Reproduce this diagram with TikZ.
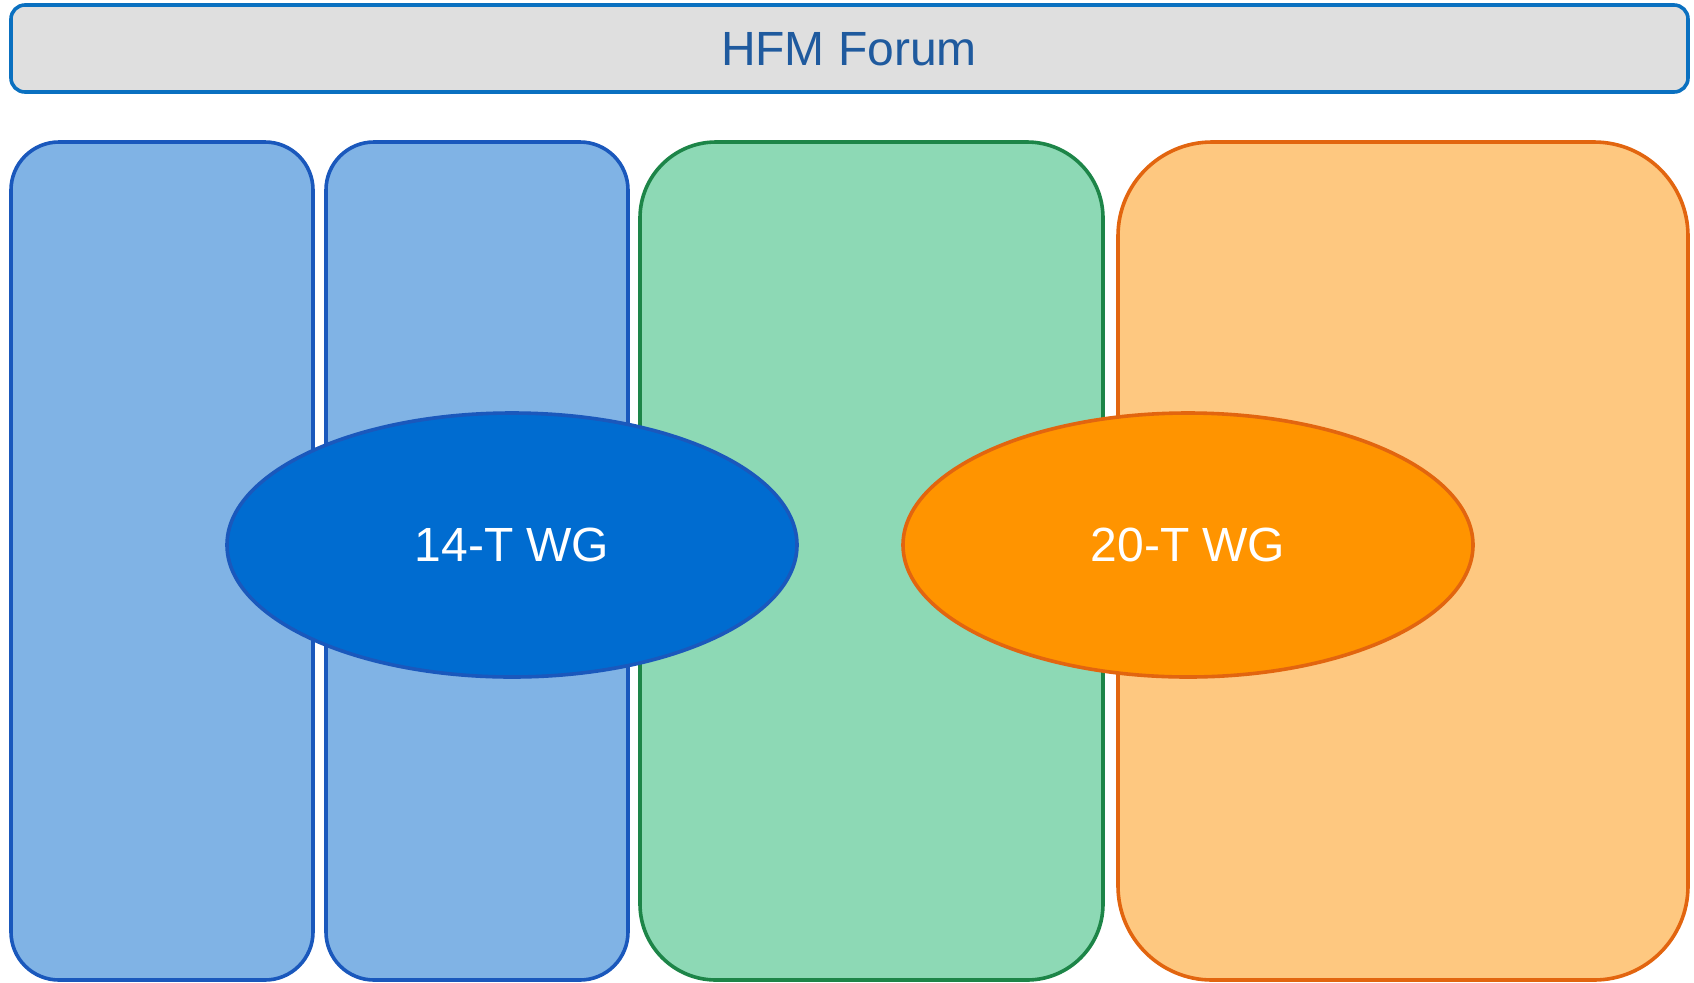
\documentclass[tikz,border=0pt]{standalone}
\usepackage{fontspec}
\setmainfont{Liberation Sans}
\usetikzlibrary{shapes.geometric}
\definecolor{barfill}{HTML}{DFDFDF}
\definecolor{barline}{HTML}{0A70C0}
\definecolor{bartext}{HTML}{1F5A9E}
\definecolor{bluefill}{HTML}{80B3E5}
\definecolor{blueline}{HTML}{1A58BC}
\definecolor{greenfill}{HTML}{8DD9B5}
\definecolor{greenline}{HTML}{1D8548}
\definecolor{orangefill}{HTML}{FEC880}
\definecolor{orangeline}{HTML}{E2650F}
\definecolor{ellblue}{HTML}{006CD0}
\definecolor{ellorange}{HTML}{FF9400}
\tikzset{
  pane/.style={line width=1.8pt},
  wg/.style={ellipse, line width=1.8pt, text=white, inner sep=0pt,
    font=\fontsize{24}{29}\selectfont},
}
\begin{document}
\begin{tikzpicture}[x=0.5pt,y=-0.5pt]
\useasboundingbox (0,0) rectangle (1694,982);
% top bar
\draw[pane, draw=barline, fill=barfill, rounded corners=7pt] (11,5) rectangle (1688,92);
\node[text=bartext, font=\fontsize{24}{29}\selectfont] (forum) at (849,49) {HFM Forum};
% columns
\draw[pane, draw=blueline, fill=bluefill, rounded corners=24pt] (11,142) rectangle (313,980);
\draw[pane, draw=blueline, fill=bluefill, rounded corners=24pt] (326,142) rectangle (628,980);
\draw[pane, draw=greenline, fill=greenfill, rounded corners=38pt] (640,142) rectangle (1103,980);
\draw[pane, draw=orangeline, fill=orangefill, rounded corners=47pt] (1118,142) rectangle (1688,980);
% ellipses
\node[wg, draw=blueline, fill=ellblue, minimum width=285pt, minimum height=132pt] (wg14) at (512,545) {14-T WG};
\node[wg, draw=orangeline, fill=ellorange, minimum width=285pt, minimum height=132pt] (wg20) at (1188,545) {20-T WG};
\end{tikzpicture}
\end{document}
